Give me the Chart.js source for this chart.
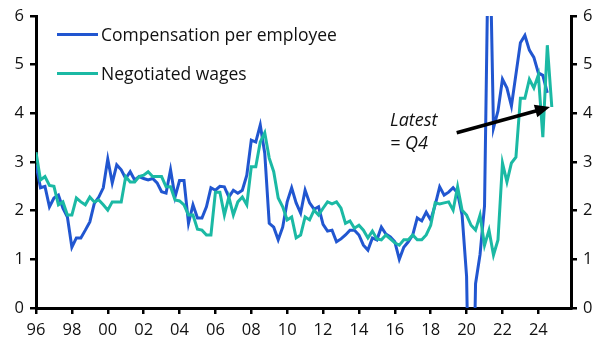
<!DOCTYPE html>
<html>
<head>
<meta charset="utf-8">
<script src="https://cdn.jsdelivr.net/npm/chart.js@4"></script>
<style>
  body { margin: 0; background: #fff; }
  #wrap { position: relative; width: 608px; height: 353px; }
  .txt { position: absolute; font-family: "Open Sans", sans-serif; font-size: 17.5px; color: #111; white-space: nowrap; line-height: 20px; }
  .note { font-size: 18px; font-style: italic; }
  .key { position: absolute; height: 3px; width: 41px; }
</style>
</head>
<body>
<div id="wrap">
  <canvas id="chart" width="608" height="353"></canvas>
  <div class="key" style="left:57px; top:33px; background:#2156d0"></div>
  <div class="txt" style="left:101px; top:24px">Compensation per employee</div>
  <div class="key" style="left:57px; top:72px; background:#1bb9a4"></div>
  <div class="txt" style="left:101px; top:63px">Negotiated wages</div>
  <div class="txt note" style="left:390px; top:109px">Latest</div>
  <div class="txt note" style="left:390px; top:132px">= Q4</div>
</div>
<script>
// quarterly data, starting 1996 Q1
const startYear = 1996;

const compensation = [
  2.95, 2.47, 2.5, 2.08,
  2.26, 2.32, 2.05, 1.87,
  1.25, 1.44, 1.44, 1.6,
  1.77, 2.15, 2.28, 2.47,
  3.06, 2.57, 2.94, 2.84,
  2.66, 2.8, 2.63, 2.7,
  2.66, 2.63, 2.66, 2.57,
  2.39, 2.36, 2.84, 2.28,
  2.62, 2.62, 1.74, 2.12,
  1.85, 1.85, 2.08, 2.47,
  2.42, 2.5, 2.49, 2.28,
  2.42, 2.36, 2.42, 2.73,
  3.45, 3.41, 3.76, 3.18,
  1.74, 1.66, 1.4, 1.66,
  2.18, 2.47, 2.16, 1.95,
  2.42, 2.16, 2.03, 2.08,
  1.72, 1.58, 1.6, 1.36,
  1.42, 1.5, 1.6, 1.6,
  1.5, 1.29, 1.19, 1.44,
  1.4, 1.66, 1.52, 1.46,
  1.36, 1.0, 1.25, 1.36,
  1.5, 1.85, 1.79, 1.97,
  1.81, 2.12, 2.49, 2.32,
  2.38, 2.47, 2.36, 1.91,
  0.65, -4.5, 0.5, 1.1,
  2.1, 8.5, 3.7, 4.05,
  4.7, 4.52, 4.15, 4.8,
  5.45, 5.6, 5.3, 5.15,
  4.83, 4.78, 4.42
];

const negotiated = [
  3.2, 2.63, 2.7, 2.52,
  2.5, 2.12, 2.18, 1.91,
  1.91, 2.26, 2.18, 2.12,
  2.28, 2.18, 2.22, 2.12,
  2.01, 2.18, 2.18, 2.18,
  2.7, 2.59, 2.59, 2.7,
  2.73, 2.8, 2.7, 2.7,
  2.7, 2.49, 2.49, 2.22,
  2.2, 2.12, 1.91, 1.91,
  1.62, 1.6, 1.5, 1.5,
  2.38, 2.38, 1.91, 2.28,
  1.91, 2.18, 2.28, 2.12,
  2.9, 2.9, 3.41, 3.6,
  3.08, 2.8, 2.26, 2.08,
  1.81, 1.87, 1.44, 1.5,
  1.87, 1.81, 2.01, 1.91,
  2.05, 2.18, 2.14, 2.18,
  2.05, 1.74, 1.79, 1.64,
  1.7, 1.6, 1.44, 1.58,
  1.42, 1.4, 1.5, 1.42,
  1.34, 1.29, 1.4, 1.4,
  1.5, 1.4, 1.4, 1.5,
  1.7, 2.16, 2.14, 2.16,
  2.18, 2.01, 2.49, 2.01,
  1.91, 1.7, 1.6, 1.91,
  1.29, 1.6, 1.09, 1.4,
  2.98, 2.59, 2.98, 3.1,
  4.31, 4.31, 4.7, 4.52,
  4.79, 3.51, 5.4, 4.13
];

const yTicks = [0, 1, 2, 3, 4, 5, 6];

function toPoints(values) {
  return values.map((v, i) => ({ x: startYear + i / 4, y: v }));
}

// arrow pointing at the latest reading
const arrowPlugin = {
  id: 'arrow',
  afterDatasetsDraw(chart) {
    const { ctx, scales } = chart;
    const x0 = scales.x.getPixelForValue(2019.45), y0 = scales.y.getPixelForValue(3.6);
    const x1 = scales.x.getPixelForValue(2024.65), y1 = scales.y.getPixelForValue(4.13);
    const ang = Math.atan2(y1 - y0, x1 - x0);
    ctx.save();
    ctx.strokeStyle = '#000';
    ctx.fillStyle = '#000';
    ctx.lineWidth = 3.5;
    ctx.beginPath();
    ctx.moveTo(x0, y0);
    ctx.lineTo(x1 - 12 * Math.cos(ang), y1 - 12 * Math.sin(ang));
    ctx.stroke();
    ctx.beginPath();
    ctx.moveTo(x1, y1);
    ctx.lineTo(x1 - 15 * Math.cos(ang) + 6.5 * Math.sin(ang), y1 - 15 * Math.sin(ang) - 6.5 * Math.cos(ang));
    ctx.lineTo(x1 - 15 * Math.cos(ang) - 6.5 * Math.sin(ang), y1 - 15 * Math.sin(ang) + 6.5 * Math.cos(ang));
    ctx.closePath();
    ctx.fill();
    ctx.restore();
  }
};

const tickFont = { family: 'Open Sans', size: 16.5 };
const axisGrid = { drawOnChartArea: false, drawTicks: true, tickLength: 6, color: '#000', lineWidth: 2.5 };
const axisBorder = { display: true, width: 3, color: '#000' };

new Chart(document.getElementById('chart').getContext('2d'), {
  type: 'line',
  data: {
    datasets: [{
      label: 'Negotiated wages',
      data: toPoints(negotiated),
      borderColor: '#1bb9a4',
      borderWidth: 3,
      pointRadius: 0,
      tension: 0,
      order: 0
    }, {
      label: 'Compensation per employee',
      data: toPoints(compensation),
      borderColor: '#2156d0',
      borderWidth: 3,
      pointRadius: 0,
      tension: 0,
      order: 1
    }]
  },
  options: {
    responsive: false,
    animation: false,
    layout: { padding: { top: 16, left: 0, right: 0, bottom: 0 } },
    plugins: {
      legend: { display: false },
      tooltip: { enabled: false }
    },
    scales: {
      x: {
        type: 'linear',
        min: 1996,
        max: 2025.82,
        grid: axisGrid,
        border: axisBorder,
        ticks: {
          stepSize: 2,
          includeBounds: false,
          maxRotation: 0,
          autoSkip: false,
          padding: 6,
          color: '#111',
          font: tickFont,
          callback: v => String(v % 100).padStart(2, '0')
        },
        afterFit: s => { s.height = 45; }
      },
      y: {
        position: 'left',
        min: 0,
        max: 6,
        grid: axisGrid,
        border: axisBorder,
        afterBuildTicks: s => { s.ticks = yTicks.map(v => ({ value: v })); },
        ticks: { padding: 6, color: '#111', font: tickFont },
        afterFit: s => { s.width = 36; }
      },
      y2: {
        position: 'right',
        min: 0,
        max: 6,
        grid: axisGrid,
        border: axisBorder,
        afterBuildTicks: s => { s.ticks = yTicks.map(v => ({ value: v })); },
        ticks: { padding: 6, color: '#111', font: tickFont },
        afterFit: s => { s.width = 37; }
      }
    }
  },
  plugins: [arrowPlugin]
});
</script>
</body>
</html>
